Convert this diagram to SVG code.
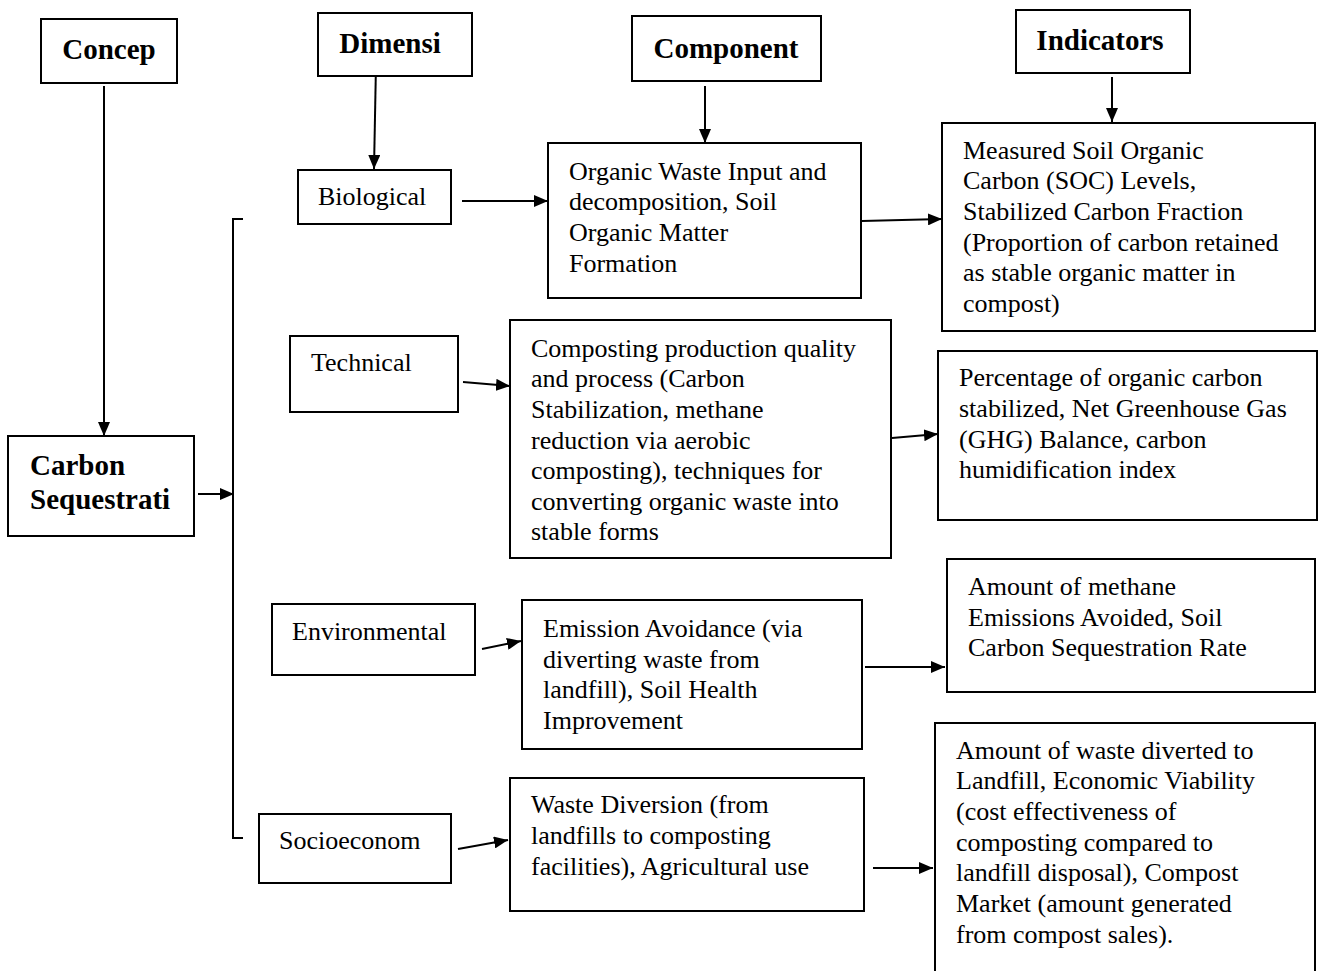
<svg xmlns="http://www.w3.org/2000/svg" width="1318" height="971" viewBox="0 0 1318 971">
<style>
.box{fill:#fff;stroke:#000;stroke-width:2}
.t{font-family:"Liberation Serif","Times New Roman",serif;font-size:26px;fill:#000}
.h{font-family:"Liberation Serif","Times New Roman",serif;font-size:29px;font-weight:bold;fill:#000}
.c{stroke:#000;stroke-width:2;fill:none}
</style>
<defs>
<marker id="ah" viewBox="0 0 14 12" refX="14" refY="6" markerWidth="14" markerHeight="12" markerUnits="userSpaceOnUse" orient="auto">
<path d="M0,0 L14,6 L0,12 Z" fill="#000"/>
</marker>
</defs>
<rect width="1318" height="971" fill="#fff"/>

<g id="connectors">
<line class="c" x1="104" y1="86" x2="104" y2="436" marker-end="url(#ah)"/>
<line class="c" x1="376" y1="64" x2="374" y2="169" marker-end="url(#ah)"/>
<line class="c" x1="705" y1="86" x2="705" y2="143" marker-end="url(#ah)"/>
<line class="c" x1="1112" y1="77" x2="1112" y2="122" marker-end="url(#ah)"/>
<line class="c" x1="198" y1="494" x2="234" y2="494" marker-end="url(#ah)"/>
<path class="c" d="M243,219 L233,219 L233,838 L243,838"/>
<line class="c" x1="462" y1="201" x2="548" y2="201" marker-end="url(#ah)"/>
<line class="c" x1="862" y1="221" x2="942" y2="219" marker-end="url(#ah)"/>
<line class="c" x1="463" y1="382" x2="510" y2="386" marker-end="url(#ah)"/>
<line class="c" x1="892" y1="438" x2="938" y2="434" marker-end="url(#ah)"/>
<line class="c" x1="482" y1="649" x2="521" y2="641" marker-end="url(#ah)"/>
<line class="c" x1="865" y1="667" x2="945" y2="667" marker-end="url(#ah)"/>
<line class="c" x1="458" y1="849" x2="508" y2="840" marker-end="url(#ah)"/>
<line class="c" x1="873" y1="868" x2="933" y2="868" marker-end="url(#ah)"/>
</g>

<g id="concep"><rect class="box" x="41" y="19" width="136" height="64"/><text class="h" x="109" y="59" text-anchor="middle">Concep</text></g>
<g id="dimensi"><rect class="box" x="318" y="13" width="154" height="63"/><text class="h" x="390" y="53" text-anchor="middle">Dimensi</text></g>
<g id="component"><rect class="box" x="632" y="16" width="189" height="65"/><text class="h" x="726" y="58" text-anchor="middle">Component</text></g>
<g id="indicators"><rect class="box" x="1016" y="10" width="174" height="63"/><text class="h" x="1100" y="50" text-anchor="middle">Indicators</text></g>

<g id="carbon"><rect class="box" x="8" y="436" width="186" height="100"/>
<text class="h" x="30" y="475">Carbon</text><text class="h" x="30" y="509">Sequestrati</text></g>

<g id="biological"><rect class="box" x="298" y="170" width="153" height="54"/><text class="t" x="318" y="205">Biological</text></g>
<g id="technical"><rect class="box" x="290" y="336" width="168" height="76"/><text class="t" x="311" y="371">Technical</text></g>
<g id="environmental"><rect class="box" x="272" y="604" width="203" height="71"/><text class="t" x="292" y="640">Environmental</text></g>
<g id="socioeconom"><rect class="box" x="259" y="814" width="192" height="69"/><text class="t" x="279" y="849">Socioeconom</text></g>

<g id="comp1"><rect class="box" x="548" y="143" width="313" height="155"/>
<text class="t" x="569" y="180">Organic Waste Input and</text>
<text class="t" x="569" y="210">decomposition, Soil</text>
<text class="t" x="569" y="241">Organic Matter</text>
<text class="t" x="569" y="272">Formation</text></g>

<g id="comp2"><rect class="box" x="510" y="320" width="381" height="238"/>
<text class="t" x="531" y="357">Composting production quality</text>
<text class="t" x="531" y="387">and process (Carbon</text>
<text class="t" x="531" y="418">Stabilization, methane</text>
<text class="t" x="531" y="449">reduction via aerobic</text>
<text class="t" x="531" y="479">composting), techniques for</text>
<text class="t" x="531" y="510">converting organic waste into</text>
<text class="t" x="531" y="540">stable forms</text></g>

<g id="comp3"><rect class="box" x="522" y="600" width="340" height="149"/>
<text class="t" x="543" y="637">Emission Avoidance (via</text>
<text class="t" x="543" y="668">diverting waste from</text>
<text class="t" x="543" y="698">landfill), Soil Health</text>
<text class="t" x="543" y="729">Improvement</text></g>

<g id="comp4"><rect class="box" x="510" y="778" width="354" height="133"/>
<text class="t" x="531" y="813">Waste Diversion (from</text>
<text class="t" x="531" y="844">landfills to composting</text>
<text class="t" x="531" y="875">facilities), Agricultural use</text></g>

<g id="ind1"><rect class="box" x="942" y="123" width="373" height="208"/>
<text class="t" x="963" y="159">Measured Soil Organic</text>
<text class="t" x="963" y="189">Carbon (SOC) Levels,</text>
<text class="t" x="963" y="220">Stabilized Carbon Fraction</text>
<text class="t" x="963" y="251">(Proportion of carbon retained</text>
<text class="t" x="963" y="281">as stable organic matter in</text>
<text class="t" x="963" y="312">compost)</text></g>

<g id="ind2"><rect class="box" x="938" y="351" width="379" height="169"/>
<text class="t" x="959" y="386">Percentage of organic carbon</text>
<text class="t" x="959" y="417">stabilized, Net Greenhouse Gas</text>
<text class="t" x="959" y="448">(GHG) Balance, carbon</text>
<text class="t" x="959" y="478">humidification index</text></g>

<g id="ind3"><rect class="box" x="947" y="559" width="368" height="133"/>
<text class="t" x="968" y="595">Amount of methane</text>
<text class="t" x="968" y="626">Emissions Avoided, Soil</text>
<text class="t" x="968" y="656">Carbon Sequestration Rate</text></g>

<g id="ind4"><path class="box" d="M935,975 L935,723 L1315,723 L1315,975"/>
<text class="t" x="956" y="759">Amount of waste diverted to</text>
<text class="t" x="956" y="789">Landfill, Economic Viability</text>
<text class="t" x="956" y="820">(cost effectiveness of</text>
<text class="t" x="956" y="851">composting compared to</text>
<text class="t" x="956" y="881">landfill disposal), Compost</text>
<text class="t" x="956" y="912">Market (amount generated</text>
<text class="t" x="956" y="943">from compost sales).</text></g>
</svg>
